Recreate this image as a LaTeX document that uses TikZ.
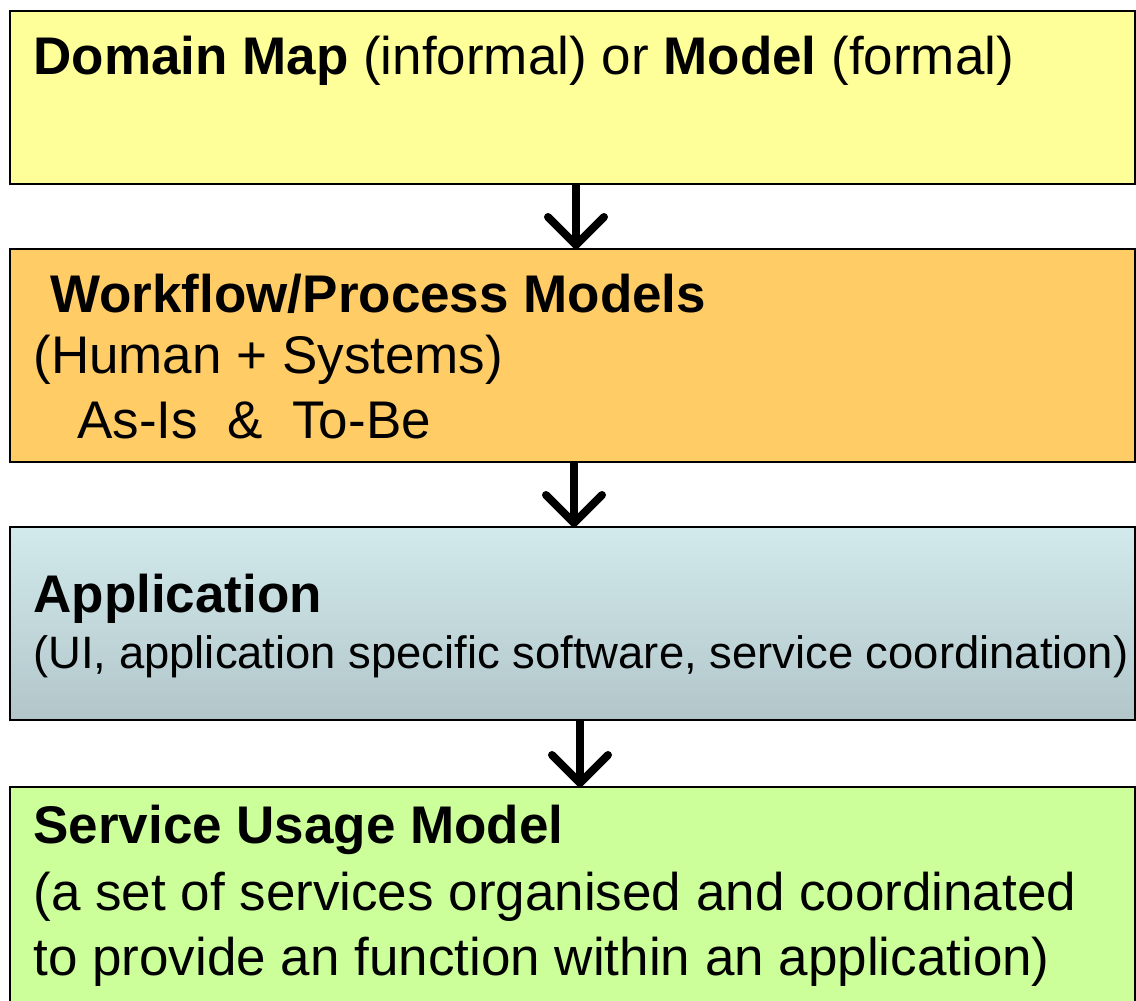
\documentclass[tikz,border=0pt]{standalone}
\usepackage{fontspec}
\setmainfont{Liberation Sans}
\usetikzlibrary{arrows.meta,calc}

\definecolor{mapyellow}{RGB}{255,255,153}
\definecolor{floworange}{RGB}{255,204,102}
\definecolor{apptop}{RGB}{210,234,236}
\definecolor{appbottom}{RGB}{178,198,202}
\definecolor{usagegreen}{RGB}{204,255,153}

\begin{document}
\begin{tikzpicture}
  [x=0.5pt,y=-0.5pt,
   box/.style={draw=black,line width=1.2pt,rectangle,anchor=north west,
               inner sep=0pt,outer sep=0pt,minimum width=562.5pt},
   head/.style={anchor=base west,inner sep=0pt,font=\fontsize{26.5}{32}\selectfont\bfseries},
   body/.style={anchor=base west,inner sep=0pt,font=\fontsize{26.5}{32}\selectfont},
   small/.style={anchor=base west,inner sep=0pt,font=\fontsize{22.7}{27}\selectfont},
   flow/.style={line width=4pt,
                -{Straight Barb[length=14pt,width=28pt,round]}}]
  \useasboundingbox (0,0) rectangle (1136,1001);

  % the four layers
  \node[box,fill=mapyellow,minimum height=86.5pt]  (map)   at (10,11)  {};
  \node[box,fill=floworange,minimum height=106.5pt] (flow)  at (10,249) {};
  \node[box,top color=apptop,bottom color=appbottom,minimum height=96.5pt] (app) at (10,527) {};
  \node[box,fill=usagegreen,minimum height=112pt] (usage) at (10,787) {};

  % texts
  \node[head] (maptitle) at (33,74)
    {Domain Map \normalfont(informal) or \bfseries Model \normalfont(formal)};
  \node[head] (flowtitle) at (50,312) {Workflow/Process Models};
  \node[body] (flowsub)   at (33,373) {(Human + Systems)};
  \node[body] (flowcase)  at (77,438) {As-Is \ \& \ To-Be};
  \node[head] (apptitle)  at (33,612) {Application};
  \node[small] (appsub)   at (33,668)
    {(UI, application specific software, service coordination)};
  \node[head] (usetitle)  at (33,843) {Service Usage Model};
  \node[body] (usesub)    at (33,910) {(a set of services organised and coordinated};
  \node[body] (usesubb)   at (33,975) {to provide an function within an application)};

  % arrows between the layers
  \coordinate (a1) at (576,0);
  \coordinate (a2) at (574,0);
  \coordinate (a3) at (580,0);
  \draw[flow] (map.south -| a1) -- (flow.north -| a1);
  \draw[flow] (flow.south -| a2) -- (app.north -| a2);
  \draw[flow] (app.south -| a3) -- (usage.north -| a3);

\end{tikzpicture}
\end{document}
